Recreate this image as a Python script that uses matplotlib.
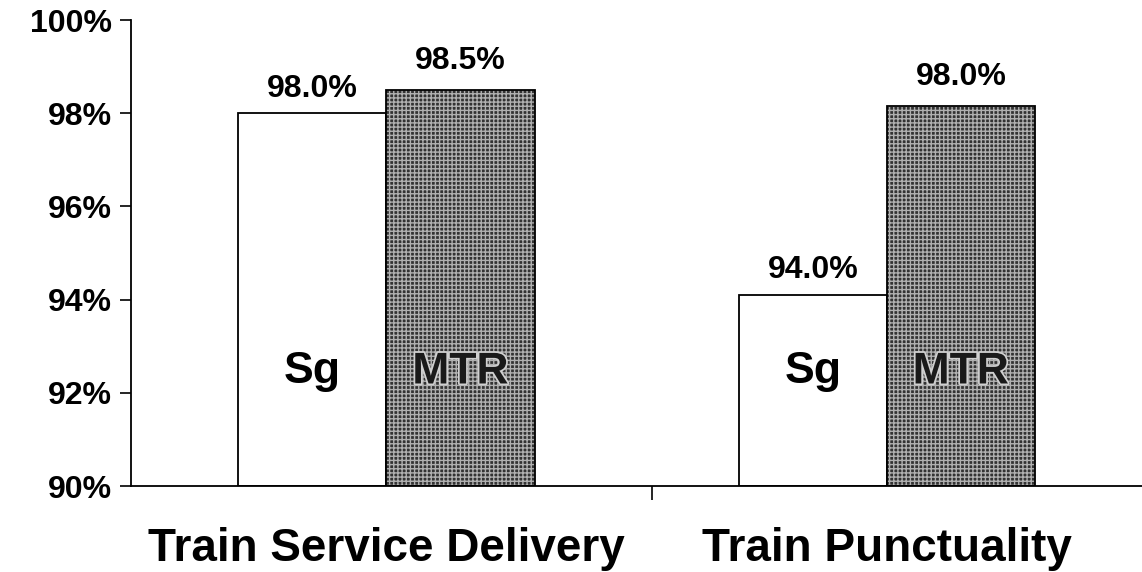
import matplotlib
matplotlib.use("Agg")
import matplotlib.pyplot as plt
import matplotlib.patheffects as pe
import numpy as np

plt.rcParams['font.family'] = ['Liberation Sans', 'DejaVu Sans']

categories = ["Train Service Delivery", "Train Punctuality"]
sg_values = [98.0, 94.1]
mtr_values = [98.5, 98.15]
sg_labels = ["98.0%", "94.0%"]
mtr_labels = ["98.5%", "98.0%"]
yticks = [90, 92, 94, 96, 98, 100]
ytick_labels = ["90%", "92%", "94%", "96%", "98%", "100%"]

fig = plt.figure(figsize=(11.42, 5.72), dpi=100)
ax = fig.add_axes([0.115, 0.150, 0.885, 0.815])

x = np.arange(len(categories))
w = 0.296
bars_sg = ax.bar(x - w / 2, [v - 90 for v in sg_values], w, bottom=90,
                 facecolor='white', edgecolor='black', linewidth=1.3)
bars_mtr = ax.bar(x + w / 2, [v - 90 for v in mtr_values], w, bottom=90,
                  facecolor='#333333', edgecolor='#b0b0b0', hatch='++++',
                  linewidth=0.0)
for b in bars_mtr:
    ax.add_patch(plt.Rectangle((b.get_x(), 90), b.get_width(), b.get_height(),
                               fill=False, edgecolor='black', linewidth=1.3))

for b, lab in zip(bars_sg, sg_labels):
    ax.annotate(lab, (b.get_x() + b.get_width() / 2, b.get_y() + b.get_height()),
                xytext=(0, 7), textcoords='offset points', ha='center', va='bottom',
                fontsize=23, fontweight='bold')
for b, lab in zip(bars_mtr, mtr_labels):
    ax.annotate(lab, (b.get_x() + b.get_width() / 2, b.get_y() + b.get_height()),
                xytext=(0, 10), textcoords='offset points', ha='center', va='bottom',
                fontsize=23, fontweight='bold')

for b in bars_sg:
    ax.text(b.get_x() + b.get_width() / 2, 92.45, "Sg", ha='center', va='center',
            fontsize=32, fontweight='bold')
for b in bars_mtr:
    ax.text(b.get_x() + b.get_width() / 2, 92.45, "MTR", ha='center', va='center',
            fontsize=32, fontweight='bold', color='#1a1a1a',
            path_effects=[pe.withStroke(linewidth=2.5, foreground='#d0d0d0')])

ax.set_ylim(90, 100)
ax.set_xlim(-0.51, 1.51)
ax.set_yticks(yticks)
ax.set_yticklabels(ytick_labels, fontsize=23, fontweight='bold')
ax.set_xticks([0.53])
ax.set_xticklabels([""])
ax.tick_params(axis='y', direction='out', length=8, width=1.2, pad=6)
ax.tick_params(axis='x', direction='out', length=10, width=1.2)

for i, c in enumerate(categories):
    ax.text(x[i], -0.135, c, transform=ax.get_xaxis_transform(), ha='center',
            va='center', fontsize=33, fontweight='bold')

ax.spines['top'].set_visible(False)
ax.spines['right'].set_visible(False)
ax.spines['left'].set_linewidth(1.3)
ax.spines['bottom'].set_linewidth(1.3)

fig.savefig("out.png", dpi=100)
